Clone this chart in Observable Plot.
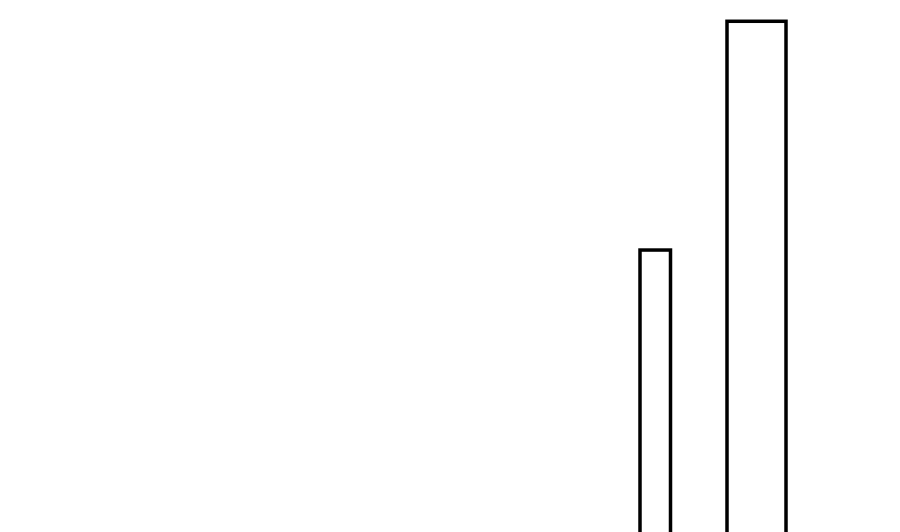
<!DOCTYPE html>
<html>
<head>
<meta charset="utf-8">
<script src="https://cdn.jsdelivr.net/npm/d3@7"></script>
<script src="https://cdn.jsdelivr.net/npm/@observablehq/plot@0.6"></script>
<style>
  html, body { margin: 0; padding: 0; background: #fff; overflow: hidden; }
  #chart svg { display: block; }
</style>
</head>
<body>
<div id="chart"></div>
<script>
// Bin edges (x units) and bar heights (y units)
const binStart = [64.0, 72.7];
const binEnd = [67.05, 78.6];
const heights = [53.0, 96.0];
const baseline = -2;

const data = binStart.map((s, i) => ({x1: s, x2: binEnd[i], y: heights[i]}));

const chart = Plot.plot({
  width: 900,
  height: 532,
  margin: 0,
  x: {domain: [0, 90], axis: null},
  y: {domain: [0, 100], axis: null},
  marks: [
    Plot.rectY(data, {
      x1: "x1",
      x2: "x2",
      y1: baseline,
      y2: "y",
      fill: "white",
      stroke: "black",
      strokeWidth: 3.5,
      clip: true
    })
  ]
});
document.getElementById("chart").append(chart);
</script>
</body>
</html>
